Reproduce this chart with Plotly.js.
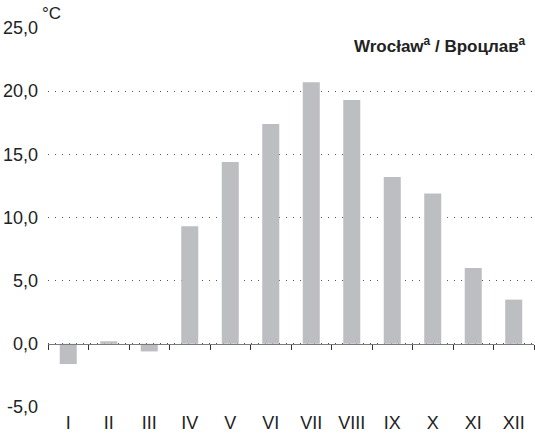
<!DOCTYPE html>
<html>
<head>
<meta charset="utf-8">
<script src="https://cdn.plot.ly/plotly-3.0.1.min.js"></script>
<style>html,body{margin:0;padding:0;background:#fff}#chart{width:535px;height:433px}</style>
</head>
<body>
<div id="chart"></div>
<script>
const months = ["I","II","III","IV","V","VI","VII","VIII","IX","X","XI","XII"];
const temperature = [-1.6, 0.2, -0.6, 9.3, 14.4, 17.4, 20.7, 19.3, 13.2, 11.9, 6.0, 3.5];
const yTicks = [-5, 0, 5, 10, 15, 20, 25];
const yTickLabels = ["-5,0", "0,0", "5,0", "10,0", "15,0", "20,0", "25,0"];

const FONT = "'Liberation Sans Narrow', 'Arial Narrow', 'Liberation Sans', Arial, sans-serif";

const data = [{
  type: "bar",
  x: months,
  y: temperature,
  marker: {color: "#bdbec2"},
  width: 0.42,
  hoverinfo: "skip"
}];

const layout = {
  width: 535, height: 433,
  margin: {l: 48, r: 1, t: 28, b: 26},
  paper_bgcolor: "#fff", plot_bgcolor: "#fff",
  showlegend: false,
  font: {family: FONT, color: "#222", size: 17},
  xaxis: {
    type: "category",
    categoryarray: months,
    range: [-0.5, 11.5],
    anchor: "free",
    position: 1/6,
    showline: true, linecolor: "#7a7a7a", linewidth: 1.5,
    ticks: "outside", tickson: "boundaries", ticklen: 5, tickcolor: "#333", tickwidth: 1,
    ticklabelstandoff: 62,
    showgrid: false, zeroline: false,
    tickfont: {family: FONT, size: 18, color: "#222"}
  },
  yaxis: {
    range: [-5, 25],
    tickvals: yTicks,
    ticktext: yTickLabels,
    showline: false, zeroline: false,
    showgrid: true, gridcolor: "#555", gridwidth: 1, griddash: "1px,6px",
    ticks: "", ticklabelstandoff: 9,
    tickfont: {family: FONT, size: 18, color: "#222"}
  },
  annotations: [
    {xref: "paper", yref: "paper", x: 0, y: 1, xanchor: "left", yanchor: "bottom",
     xshift: -8, yshift: 3, text: "°C", showarrow: false,
     font: {family: FONT, size: 17, color: "#222"}},
    {xref: "paper", yref: "paper", x: 0.988, y: 0.99, xanchor: "right", yanchor: "top",
     text: "<b>Wrocław<sup>a</sup> / Вроцлав<sup>a</sup></b>", showarrow: false,
     font: {family: FONT, size: 17, color: "#222"}}
  ]
};

Plotly.newPlot("chart", data, layout, {displayModeBar: false, staticPlot: true});
</script>
</body>
</html>
